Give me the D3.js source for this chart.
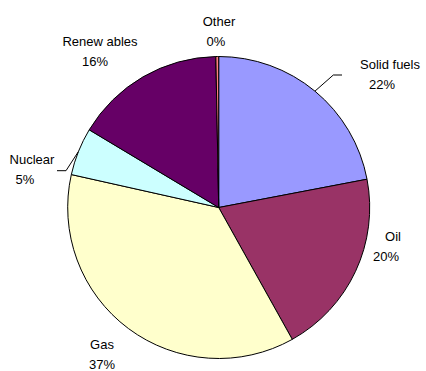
<!DOCTYPE html>
<html>
<head>
<meta charset="utf-8">
<script src="https://cdn.jsdelivr.net/npm/d3@7"></script>
<style>
  html, body { margin: 0; padding: 0; background: #fff; }
  svg { display: block; }
  text { font-family: "Liberation Sans", Arial, sans-serif; font-size: 13px; fill: #000; }
</style>
</head>
<body>
<svg id="chart" width="426" height="371"></svg>
<script>
// ---- data ----
const categories = ["Solid fuels", "Oil", "Gas", "Nuclear", "Renewables", "Other"];
const labelTexts = ["Solid fuels", "Oil", "Gas", "Nuclear", "Renew ables", "Other"];
const values = [22.0, 19.9, 36.6, 5.1, 16.1, 0.3];
const colors = ["#9999FF", "#993366", "#FFFFCC", "#CCFFFF", "#660066", "#FF8080"];

// ---- layout (label placement) ----
const labelLayout = [
  { x1: 390, x2: 382, y: 69,  leader: [[333.3, 75], [342, 75]] },
  { x1: 393, x2: 386, y: 241, leader: null },
  { x1: 102, x2: 102, y: 349, leader: null },
  { x1: 32,  x2: 25,  y: 164, leader: [[66, 170.7], [57, 170.7]] },
  { x1: 100, x2: 95,  y: 46,  leader: null },
  { x1: 219, x2: 216, y: 26,  leader: null }
];

const cx = 218.7, cy = 207.5, R = 151;
const svg = d3.select("#chart");
const g = svg.append("g").attr("transform", `translate(${cx},${cy})`);

const pie = d3.pie().sort(null).value(d => d.value);
const arcs = pie(categories.map((c, i) => ({ cat: c, value: values[i], i })));
const arc = d3.arc().innerRadius(0).outerRadius(R);

g.selectAll("path.slice")
  .data(arcs)
  .enter().append("path")
  .attr("class", "slice")
  .attr("d", arc)
  .attr("fill", d => colors[d.data.i])
  .attr("stroke", "#000")
  .attr("stroke-width", 1)
  .attr("stroke-linejoin", "round");

// leaders
arcs.forEach(d => {
  const L = labelLayout[d.data.i];
  if (!L.leader) return;
  const mid = (d.startAngle + d.endAngle) / 2;
  const p0 = [cx + R * Math.sin(mid), cy - R * Math.cos(mid)];
  const pts = [p0].concat(L.leader);
  svg.append("path")
    .attr("d", d3.line()(pts))
    .attr("fill", "none")
    .attr("stroke", "#000")
    .attr("stroke-width", 1);
});

// labels
arcs.forEach(d => {
  const i = d.data.i;
  const L = labelLayout[i];
  const t = svg.append("text");
  t.append("tspan").attr("x", L.x1).attr("y", L.y).attr("text-anchor", "middle").text(labelTexts[i]);
  t.append("tspan").attr("x", L.x2).attr("y", L.y + 20).attr("text-anchor", "middle")
    .text(Math.round(values[i]) + "%");
});
</script>
</body>
</html>
